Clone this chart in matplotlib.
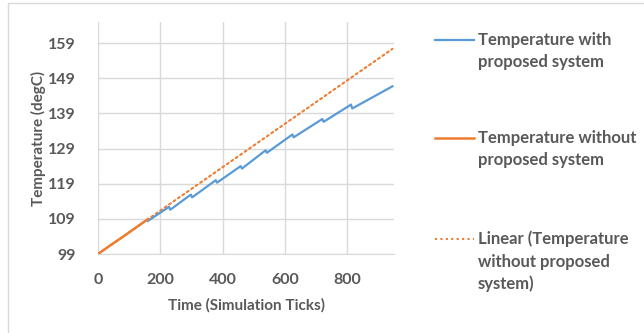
import matplotlib
matplotlib.use("Agg")
import matplotlib.pyplot as plt
from matplotlib.lines import Line2D
from matplotlib.patches import Rectangle
import numpy as np

# ── Datos ──────────────────────────────────────────────────────────
t_sin = [0, 40, 80, 120, 160]
temp_sin = [99.0, 101.5, 103.9, 106.4, 108.9]

t_con = [160, 228, 232, 298, 302, 378, 382, 458, 462, 538, 542,
         624, 628, 720, 724, 812, 816, 945]
temp_con = [108.4, 112.4, 111.6, 115.9, 115.1, 120.0, 119.3, 124.0, 123.3,
            128.5, 127.8, 133.0, 132.2, 137.4, 136.6, 141.5, 140.4, 146.7]

x_ticks = [0, 200, 400, 600, 800]
y_ticks = [99, 109, 119, 129, 139, 149, 159]

etiquetas = [["Temperature with", "proposed system"],
             ["Temperature without", "proposed system"],
             ["Linear (Temperature", "without proposed", "system)"]]

# ── Paleta ────────────────────────────────────────────────────────
AZUL = "#5B9BD5"
NARANJA = "#ED7D31"
TEXTO = "#595959"
GRID = "#D9D9D9"
FUENTE = "Lato"

W, H = 644, 333
fig = plt.figure(figsize=(W / 100, H / 100), dpi=100)

def px(x, y):
    return x / W, 1 - y / H

# borde del área del gráfico
fig.add_artist(Rectangle(px(8, 345), (W + 20) / W, 342 / H, transform=fig.transFigure,
                         fill=False, edgecolor=GRID, linewidth=1))

x0, y_top = px(98, 22)
x1, y_bot = px(394, 254)
ax = fig.add_axes([x0, y_bot, x1 - x0, y_top - y_bot])

# línea de tendencia lineal (ajuste sobre la serie sin sistema)
coef = np.polyfit(t_sin, temp_sin, 1)
t_tend = np.array([0, 945])
ax.plot(t_tend, np.polyval(coef, t_tend), color=NARANJA, linewidth=1.5,
        linestyle=(0, (1, 1.6)), dash_capstyle="round", zorder=2)
ax.plot(t_con, temp_con, color=AZUL, linewidth=1.6, zorder=3)
ax.plot(t_sin, temp_sin, color=NARANJA, linewidth=1.8, zorder=4)

ax.set_xlim(0, 950)
ax.set_ylim(99, 165)
ax.set_xticks(x_ticks)
ax.set_yticks(y_ticks)
ax.grid(True, color=GRID, linewidth=1)
ax.set_axisbelow(True)
for lado in ["top", "right", "left"]:
    ax.spines[lado].set_visible(False)
ax.spines["bottom"].set_color(GRID)
ax.tick_params(length=0, colors=TEXTO, labelsize=11.5)
ax.tick_params(axis="y", pad=16)
ax.tick_params(axis="x", pad=14)
for lab in ax.get_xticklabels() + ax.get_yticklabels():
    lab.set_fontweight("bold")
    lab.set_family(FUENTE)

fig.text(*px(247, 305), "Time (Simulation Ticks)", ha="center", va="center",
         color=TEXTO, fontsize=11, fontweight="bold", family=FUENTE)
fig.text(*px(38, 138), "Temperature (degC)", ha="center", va="center",
         rotation=90, color=TEXTO, fontsize=11, fontweight="bold", family=FUENTE)

# ── Leyenda manual ────────────────────────────────────────────────
estilos = [dict(color=AZUL, linestyle="-", linewidth=1.6),
           dict(color=NARANJA, linestyle="-", linewidth=1.8),
           dict(color=NARANJA, linestyle=(0, (1, 1.6)), linewidth=1.5)]
y_leyenda = [40, 138, 239]
for lineas, est, yy in zip(etiquetas, estilos, y_leyenda):
    xa, ya = px(435, yy)
    xb, _ = px(474, yy)
    fig.add_artist(Line2D([xa, xb], [ya, ya], transform=fig.transFigure, **est))
    for k, linea in enumerate(lineas):
        fig.text(*px(478, yy + 5 + 22.5 * k), linea, ha="left", va="baseline",
                 color=TEXTO, fontsize=12, fontweight="bold", family=FUENTE)

fig.savefig("out.png", dpi=100, facecolor="white")
